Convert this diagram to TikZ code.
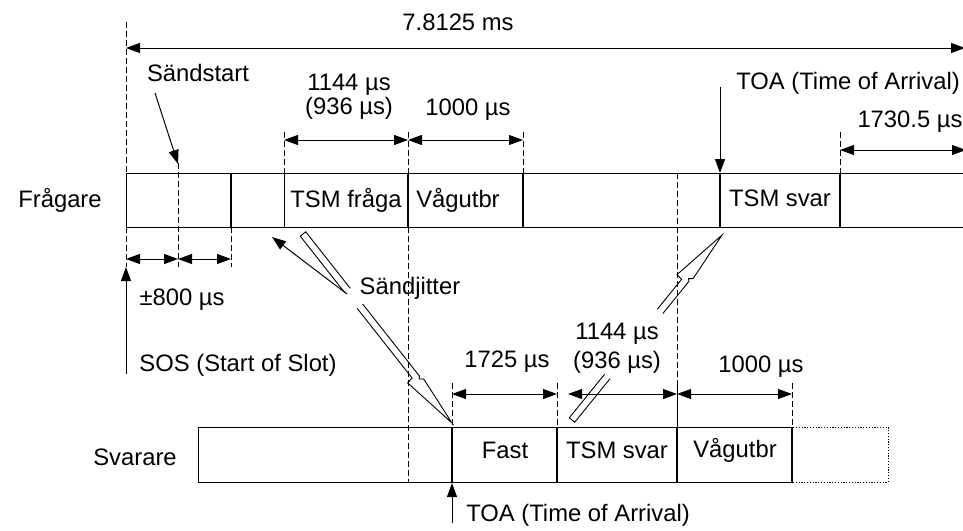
\documentclass[tikz,border=0pt]{standalone}
\usepackage{fontspec}
\setmainfont{Liberation Sans}
\usetikzlibrary{arrows.meta,calc}

% hollow zigzag arrow, drawn along the local u axis (gap start, gap end, length)
\newcommand{\jitterbolt}[3]{%
  \draw[bolt] (#1,3.5) -- (0,3.5) -- (0,-3.5) -- (#1,-3.5);
  \draw[bolt] (#2,3.5) -- ({#3-60},3.5) -- ({#3-59},10) -- (#3,0)
    -- ({#3-52},-5) -- ({#3-55},-1.5) -- ({#3-57},-3.5) -- (#2,-3.5);
}

\begin{document}
\begin{tikzpicture}[x=0.5pt, y=-0.5pt,
  every node/.style={font=\fontsize{11.9}{13}\selectfont, inner sep=1pt},
  rule/.style={line width=0.5pt},
  divider/.style={line width=0.9pt},
  guide/.style={line width=0.5pt, dash pattern=on 3pt off 1.5pt},
  dim/.style={line width=0.5pt,
    {Triangle[length=7pt,width=5pt]}-{Triangle[length=7pt,width=5pt]}},
  arr/.style={line width=0.5pt, -{Triangle[length=7pt,width=5pt]}},
  bolt/.style={line width=0.45pt, line join=miter},
]
\useasboundingbox (0,0) rectangle (963,530);

% Frågare bar
\draw[rule] (965,173) -- (126,173) -- (126,227) -- (965,227);
\foreach \x in {231,408,523,840}
  \draw[divider] (\x,173) -- (\x,227);
\draw[rule] (284,173) -- (284,227);
\draw[line width=1.4pt] (720,173) -- (720,227);

% Svarare bar
\draw[rule] (198,427) rectangle (792,482);
\foreach \x in {452,557,677,792}
  \draw[divider] (\x,427) -- (\x,482);
\draw[line width=0.5pt, dash pattern=on 0.6pt off 0.8pt] (792,427) rectangle (888,482);

% guide lines
\draw[guide] (126,22) -- (126,173) (126,227) -- (126,267);
\draw[guide] (178,163) -- (178,267);
\draw[guide] (231,227) -- (231,267);
\foreach \x in {284,408,523,840}
  \draw[guide] (\x,132) -- (\x,173);
\draw[guide] (408,227) -- (408,483);
\draw[guide] (677,173) -- (677,427);
\foreach \x in {452,557,677,792}
  \draw[guide] (\x,383) -- (\x,427);

% dimensions
\draw[dim] (126,48) -- (965,48);
\draw[dim] (284,140) -- (408,140);
\draw[dim] (408,140) -- (523,140);
\draw[dim] (840,150) -- (966,150);
\draw[dim] (126,259) -- (178,259);
\draw[dim] (178,259) -- (231,259);
\draw[dim] (452,394) -- (557,394);
\draw[dim] (568,394) -- (677,394);
\draw[dim] (677,394) -- (792,394);

% labels
\node (total) at (458,22) {7.8125 ms};
\node (sst) at (198,73) {Sändstart};
\node[align=center, font=\fontsize{11.9}{11}\selectfont] (qlen) at (349,97) {1144 µs\\(936 µs)};
\node (qbr) at (468,110) {1000 µs};
\node (toaq) at (848,83) {TOA (Time of Arrival)};
\node (rest) at (910,122) {1730.5 µs};
\node (fr) at (60,200) {Frågare};
\node (tsmq) at (346,200) {TSM fråga};
\node (vq) at (458,200) {Vågutbr};
\node (tsmsq) at (780,198) {TSM svar};
\node (jit) at (410,288) {Sändjitter};
\node (pm) at (182,300) {±800 µs};
\node (sos) at (238,365) {SOS (Start of Slot)};
\node (fix) at (507,362) {1725 µs};
\node[align=center, font=\fontsize{11.9}{14.5}\selectfont] (slen) at (617,348) {1144 µs\\(936 µs)};
\node (sbr) at (761,367) {1000 µs};
\node (sv) at (135,457) {Svarare};
\node (fast) at (505,450) {Fast};
\node (tsms) at (617,450) {TSM svar};
\node (vs) at (735,450) {Vågutbr};
\node (toas) at (578,515) {TOA (Time of Arrival)};

% pointers
\coordinate (sst0) at (155,93);
\coordinate (sst1) at (178,164);
\coordinate (toaq0) at (720,87);
\coordinate (toaq1) at (720,173);
\coordinate (sos0) at (126,374);
\coordinate (sos1) at (126,267);
\coordinate (toas0) at (452,523);
\coordinate (toas1) at (452,483);
\coordinate (jit0) at (347,294);
\coordinate (jit1) at (272,237);
\draw[arr] (sst0) -- (sst1);
\draw[arr] (toaq0) -- (toaq1);
\draw[arr] (sos0) -- (sos1);
\draw[arr] (toas0) -- (toas1);
\draw[arr] (jit0) -- (jit1);

% transmissions
\begin{scope}[shift={(303,234)}, rotate=-51.75]
  \jitterbolt{72}{92}{240.7}
\end{scope}
\begin{scope}[shift={(572,420)}, rotate=50.96, yscale=-1]
  \jitterbolt{56}{140}{238.2}
\end{scope}

\end{tikzpicture}
\end{document}
